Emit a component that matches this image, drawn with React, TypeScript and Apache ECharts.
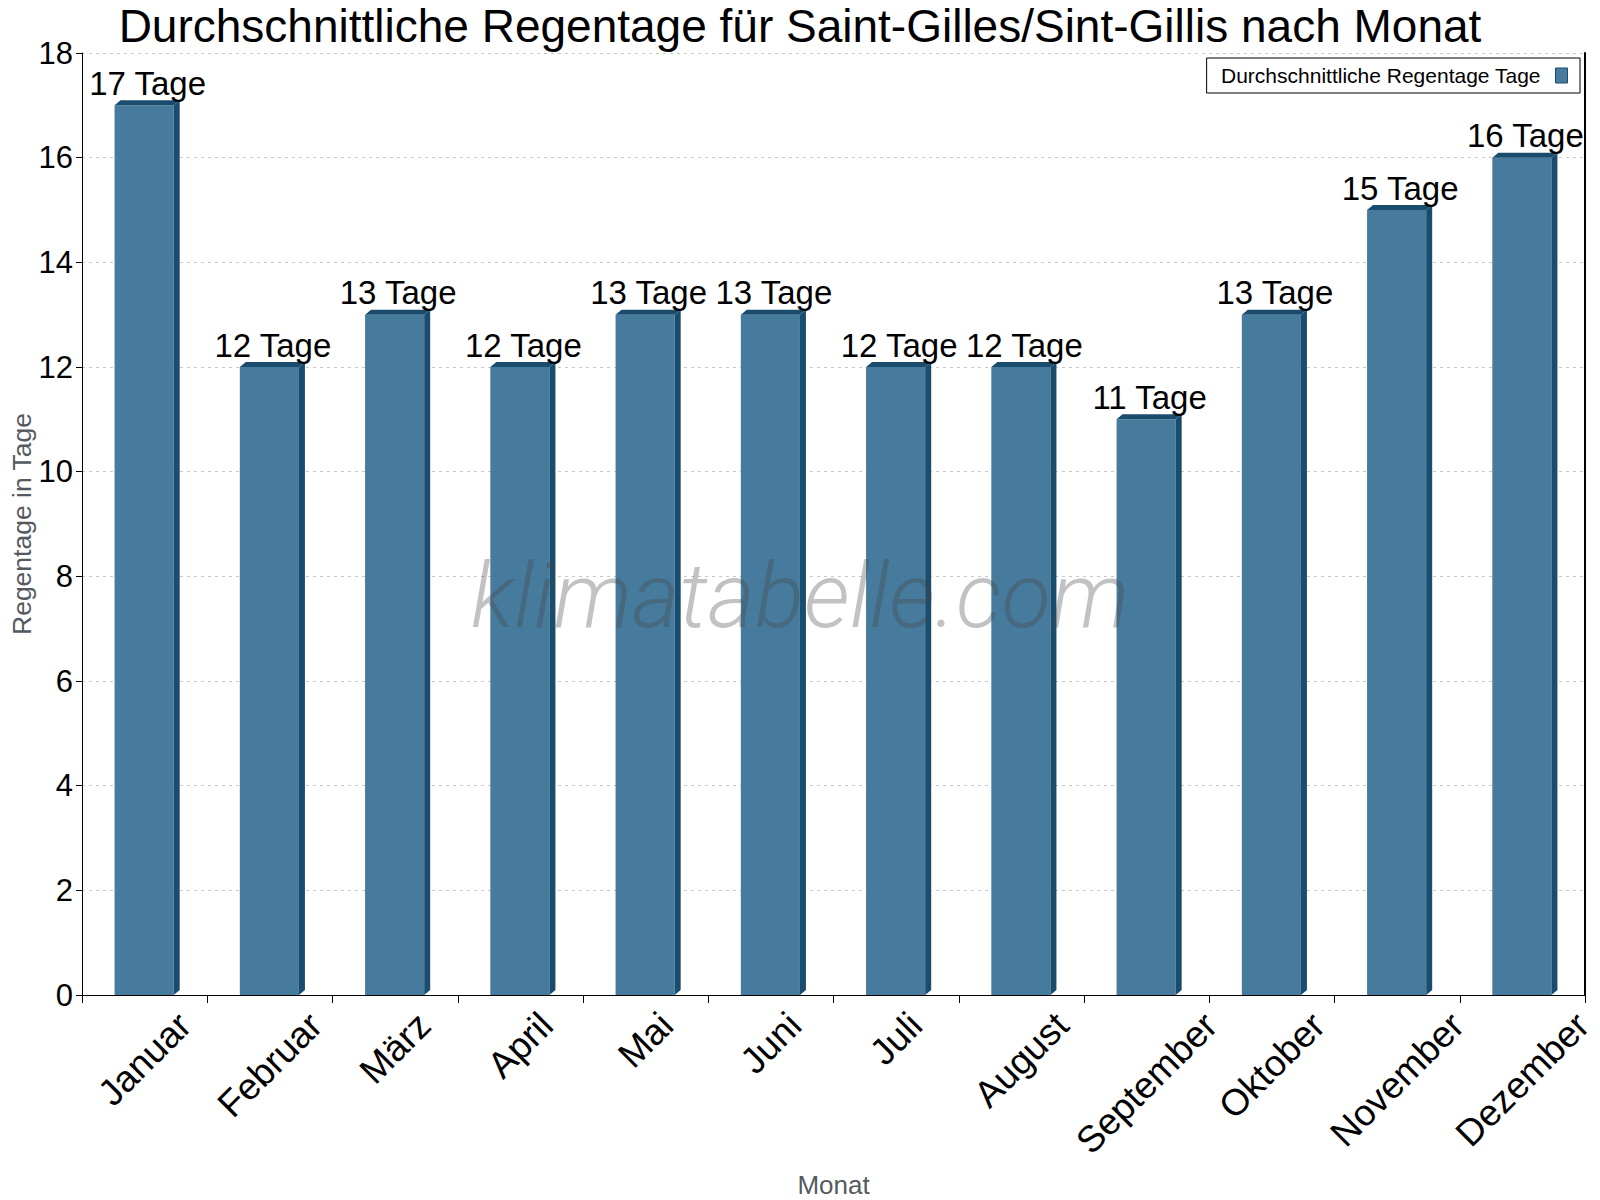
import React, { useEffect, useRef } from "react";
import * as echarts from "echarts";

const months = ["Januar", "Februar", "März", "April", "Mai", "Juni", "Juli", "August", "September", "Oktober", "November", "Dezember"];
const rainDays = [17, 12, 13, 12, 13, 13, 12, 12, 11, 13, 15, 16];
const yTicks = { min: 0, max: 18, interval: 2 };
const seriesName = "Durchschnittliche Regentage Tage";
const unit = "Tage";

const FONT = '"Liberation Sans", Arial, Helvetica, sans-serif';
const FRONT = "#467b9d";
const DARK = "#1a4c6e";
const XLABEL_SIZE = 37;

function measure(text: string, size: number): number {
  const c = document.createElement("canvas").getContext("2d");
  if (!c) return text.length * size * 0.55;
  c.font = `${size}px ${FONT}`;
  return c.measureText(text).width;
}

export default function App() {
  const ref = useRef<HTMLDivElement>(null);
  useEffect(() => {
    if (!ref.current) return;
    const chart = echarts.init(ref.current, null, { renderer: "svg" });
    const watermark = {
      type: "text",
      x: 800,
      y: 596,
      z: 100,
      silent: true,
      style: {
        text: "klimatabelle.com",
        fontFamily: "Roboto, " + FONT,
        fontSize: 91,
        fontStyle: "italic",
        fontWeight: 300,
        fill: "rgba(70,70,70,0.33)",
        align: "center",
        verticalAlign: "middle",
      },
    };
    const option: any = {
      animation: false,
      backgroundColor: "#fff",
      title: {
        text: "Durchschnittliche Regentage für Saint-Gilles/Sint-Gillis nach Monat",
        left: "center",
        top: 3,
        padding: 0,
        textStyle: { fontFamily: FONT, fontSize: 46, fontWeight: "normal", color: "#000" },
      },
      legend: {
        right: 20,
        top: 58,
        align: "right",
        padding: [7, 12, 7, 14],
        borderColor: "#000",
        borderWidth: 1,
        backgroundColor: "#fff",
        itemWidth: 12,
        itemHeight: 15,
        textStyle: { fontFamily: FONT, fontSize: 21, color: "#000", padding: [0, 10, 0, 0] },
        data: [{ name: seriesName, icon: "rect", itemStyle: { color: FRONT, borderColor: DARK, borderWidth: 1 } }],
      },
      grid: { left: 82, right: 15, top: 53, bottom: 205, containLabel: false, outerBoundsMode: "none" },
      xAxis: {
        type: "category",
        data: months,
        name: "Monat",
        nameLocation: "middle",
        nameGap: 177,
        nameMoveOverlap: false,
        nameTextStyle: { fontFamily: FONT, fontSize: 26, color: "#555a61" },
        axisLine: { show: true, lineStyle: { color: "#000", width: 1 } },
        axisTick: { show: true, length: 8, lineStyle: { color: "#000" } },
        axisLabel: { show: false, interval: 0 },
        splitLine: { show: false },
      },
      yAxis: [
        {
          type: "value",
          min: yTicks.min,
          max: yTicks.max,
          interval: yTicks.interval,
          name: "Regentage in Tage",
          nameLocation: "middle",
          nameGap: 47,
          nameMoveOverlap: false,
          nameTextStyle: { fontFamily: FONT, fontSize: 26.5, color: "#555a61" },
          axisLine: { show: true, lineStyle: { color: "#000", width: 1 } },
          axisTick: { show: true, length: 6, lineStyle: { color: "#000" } },
          axisLabel: { fontFamily: FONT, fontSize: 31, color: "#000", margin: 9 },
          splitLine: { show: true, lineStyle: { color: "#c8c8c8", type: [3, 4], width: 1 } },
        },
        {
          type: "value",
          position: "right",
          min: yTicks.min,
          max: yTicks.max,
          interval: yTicks.interval,
          axisLine: { show: true, lineStyle: { color: "#000", width: 2 } },
          axisTick: { show: false },
          axisLabel: { show: false },
          splitLine: { show: false },
        },
      ],
      graphic: [watermark],
      series: [
        {
          type: "custom",
          name: seriesName,
          xAxisIndex: 0,
          yAxisIndex: 0,
          itemStyle: { color: FRONT },
          encode: { x: 0, y: 1 },
          data: rainDays.map((v, i) => [i, v]),
          renderItem: (params: any, api: any) => {
            const idx = api.value(0);
            const val = api.value(1);
            const top = api.coord([idx, val]);
            const base = api.coord([idx, 0]);
            const band = api.size([1, 0])[0];
            const w = band * 0.472;
            const d = 6;
            const dv = 5;
            const x0 = top[0] - w / 2 - 0.5;
            const x1 = x0 + w;
            const yT = top[1];
            const yB = base[1];
            return {
              type: "group",
              children: [
                { type: "rect", shape: { x: x0, y: yT, width: w, height: yB - yT }, style: { fill: FRONT } },
                {
                  type: "polygon",
                  shape: { points: [[x0, yT], [x0 + d, yT - dv], [x1 + d, yT - dv], [x1, yT]] },
                  style: { fill: DARK },
                },
                {
                  type: "polygon",
                  shape: { points: [[x1, yT], [x1 + d, yT - dv], [x1 + d, yB - dv], [x1, yB]] },
                  style: { fill: DARK },
                },
                {
                  type: "text",
                  x: top[0] + 3,
                  y: yT - 22,
                  z2: 50,
                  style: {
                    text: `${val} ${unit}`,
                    fontFamily: FONT,
                    fontSize: 33,
                    fill: "#000",
                    align: "center",
                    verticalAlign: "middle",
                  },
                },
              ],
            };
          },
        },
      ],
    };
    chart.setOption(option);

    // Rotated month labels, centred under each category (positions from the axis scale)
    const monthLabels = months.map((m, i) => {
      const p = chart.convertToPixel({ xAxisIndex: 0, yAxisIndex: 0 }, [i, 0]) as number[];
      const w = measure(m, XLABEL_SIZE);
      return {
        type: "text",
        x: p[0],
        y: p[1] + 11 + (w + XLABEL_SIZE) * 0.354,
        rotation: Math.PI / 4,
        silent: true,
        style: {
          text: m,
          fontFamily: FONT,
          fontSize: XLABEL_SIZE,
          fill: "#000",
          align: "center",
          verticalAlign: "middle",
        },
      };
    });
    chart.setOption({ graphic: [watermark, ...monthLabels] });
    return () => chart.dispose();
  }, []);
  return <div ref={ref} style={{ position: "absolute", left: 0, top: 0, width: 1600, height: 1200 }} />;
}
